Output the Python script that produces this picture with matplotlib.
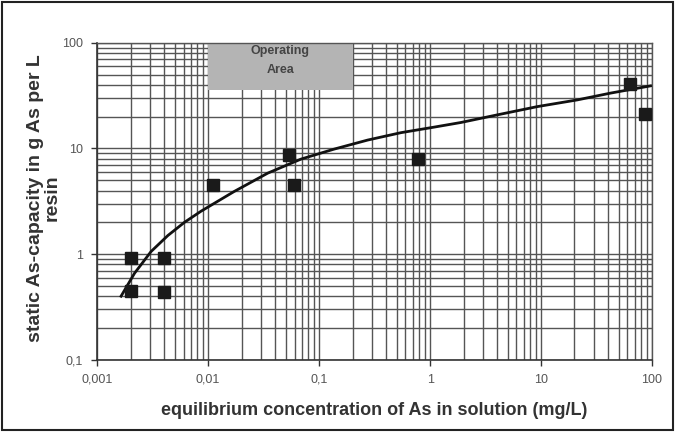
import matplotlib
matplotlib.use("Agg")
import matplotlib.pyplot as plt
from matplotlib.patches import Rectangle
from matplotlib.ticker import FixedLocator, LogLocator, NullFormatter

# measured points
conc = [0.002, 0.002, 0.004, 0.004, 0.011, 0.054, 0.059, 0.77, 63, 86]
capacity = [0.92, 0.45, 0.92, 0.44, 4.5, 8.7, 4.5, 7.9, 41, 21]

# fitted curve
fit_x = [0.00164, 0.00217, 0.00306, 0.00433, 0.00611, 0.00863, 0.0171, 0.0344,
         0.0686, 0.136, 0.273, 0.545, 1.08, 1.89, 4.04, 9.27, 21.2, 42.3, 96.8]
fit_y = [0.40, 0.66, 1.06, 1.50, 2.00, 2.55, 3.91, 5.84,
         7.93, 9.85, 12.0, 14.1, 15.9, 17.6, 20.8, 24.9, 28.8, 33.4, 39.1]

x_ticks = [0.001, 0.01, 0.1, 1, 10, 100]
x_labels = ["0,001", "0,01", "0,1", "1", "10", "100"]
y_ticks = [0.1, 1, 10, 100]
y_labels = ["0,1", "1", "10", "100"]

op_area_x = [0.01, 0.2]
op_area_y = [36, 100]

plt.rcParams["font.family"] = ["Liberation Sans", "DejaVu Sans"]

fig = plt.figure(figsize=(6.75, 4.32), dpi=100)
ax = fig.add_axes([0.144, 0.167, 0.822, 0.734])

ax.set_xscale("log")
ax.set_yscale("log")
ax.set_xlim(x_ticks[0], x_ticks[-1])
ax.set_ylim(y_ticks[0], y_ticks[-1])

grid_color = "#555555"
ax.xaxis.set_major_locator(FixedLocator(x_ticks))
ax.yaxis.set_major_locator(FixedLocator(y_ticks))
ax.xaxis.set_minor_locator(LogLocator(base=10, subs=range(2, 10), numticks=20))
ax.yaxis.set_minor_locator(LogLocator(base=10, subs=range(2, 10), numticks=20))
ax.xaxis.set_minor_formatter(NullFormatter())
ax.yaxis.set_minor_formatter(NullFormatter())
ax.set_xticklabels(x_labels)
ax.set_yticklabels(y_labels)
ax.grid(True, which="both", color=grid_color, linewidth=1.0)
ax.set_axisbelow(True)

ax.tick_params(which="major", direction="out", length=4, width=1, color="#333333",
               labelsize=9, labelcolor="#555555", pad=6)
ax.tick_params(which="minor", length=0)

for side in ["top", "right"]:
    ax.spines[side].set_color(grid_color)
    ax.spines[side].set_linewidth(1.0)
for side in ["left", "bottom"]:
    ax.spines[side].set_color("#333333")
    ax.spines[side].set_linewidth(1.2)

# operating area box
ax.add_patch(Rectangle((op_area_x[0], op_area_y[0]), op_area_x[1] - op_area_x[0],
                       op_area_y[1] - op_area_y[0], facecolor="#b4b4b4",
                       edgecolor="none", zorder=2))
ax.text((op_area_x[0] * op_area_x[1]) ** 0.5, 68, "Operating\nArea", ha="center",
        va="center", fontsize=9, fontweight="bold", color="#444444",
        linespacing=1.8, zorder=3)

ax.plot(fit_x, fit_y, color="#111111", linewidth=2, zorder=4)
ax.plot(conc, capacity, "s", color="#1a1a1a", markersize=8.5, zorder=5)

ax.set_xlabel("equilibrium concentration of As in solution (mg/L)", fontsize=13,
              fontweight="bold", color="#333333", labelpad=12)
ax.set_ylabel("static As-capacity in g As per L\nresin", fontsize=14,
              fontweight="bold", color="#333333", linespacing=1.0)
ax.yaxis.set_label_coords(-0.066, 0.51)

# frame round the whole picture
fig.patches.append(Rectangle((0.003, 0.004), 0.994, 0.992, transform=fig.transFigure,
                             fill=False, edgecolor="#222222", linewidth=1.5))

fig.savefig("out.png", dpi=100, facecolor="white")
